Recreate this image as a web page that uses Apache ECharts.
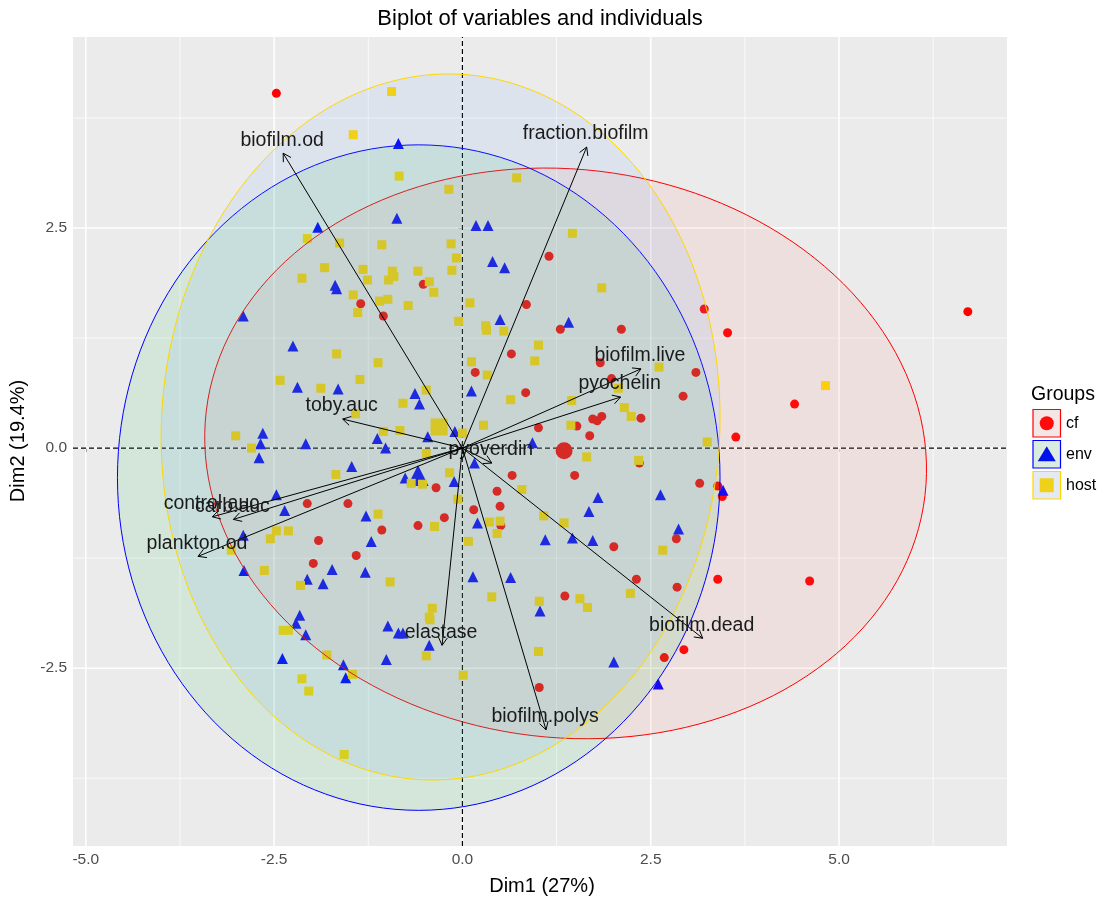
<!DOCTYPE html>
<html><head><meta charset="utf-8">
<script src="https://cdn.jsdelivr.net/npm/echarts@6/dist/echarts.min.js"></script>
<style>html,body{margin:0;padding:0;background:#fff}#c{width:1108px;height:899px}</style>
</head><body><div id="c"></div>
<script>
// ---------- data ----------
const groups = ['cf', 'env', 'host'];
const cfX = [-2.47,-0.52,-1.35,-1.05,1.15,0.85,3.21,1.30,2.11,0.65,1.83,3.10,0.17,1.98,6.71,3.52,0.84,2.93,2.37,1.73,1.79,1.85,1.01,1.52,1.69,3.63,2.35,0.66,1.49,3.15,3.39,3.45,0.46,0.50,0.15,0.51,2.84,2.01,2.31,2.85,3.39,4.61,1.36,4.41,2.68,2.94,1.02,-0.35,-0.24,-0.59,-2.06,-1.52,-1.07,-1.91,-1.41,-1.98];
const cfY = [4.03,1.86,1.64,1.50,2.18,1.63,1.58,1.35,1.35,1.07,0.97,0.86,0.86,0.79,1.55,1.31,0.63,0.59,0.34,0.33,0.31,0.36,0.23,0.25,0.14,0.125,-0.17,-0.31,-0.31,-0.40,-0.43,-0.55,-0.49,-0.66,-0.70,-0.88,-1.03,-1.12,-1.49,-1.58,-1.49,-1.51,-1.68,0.50,-2.38,-2.29,-2.72,-0.45,-0.79,-0.88,-0.63,-0.63,-0.93,-1.05,-1.22,-1.31];
const envX = [-0.85,-0.87,-1.92,-1.69,-1.67,-2.91,0.18,0.34,0.40,0.56,0.50,-2.25,1.41,0.12,-2.19,-1.65,-0.63,-0.57,-1.13,-0.46,-1.02,-0.10,-2.65,-2.68,-2.70,-2.08,-1.47,-0.76,-0.11,0.93,0.16,3.46,1.80,2.63,1.68,0.20,2.87,1.10,1.46,1.73,0.14,0.64,1.03,2.01,2.60,-2.47,-2.36,-1.28,-1.21,-2.91,-2.90,-1.73,-1.29,-2.06,-1.85,-2.16,-2.21,-2.08,-0.99,-0.85,-0.79,-0.44,-2.39,-1.01,-1.58,-1.55];
const envY = [3.46,2.61,2.51,1.85,1.81,1.50,2.53,2.53,2.12,2.05,1.46,1.16,1.43,0.65,0.69,0.67,0.62,0.50,0.11,0.13,0.00,0.19,0.17,0.05,-0.11,0.05,-0.21,-0.34,-0.38,0.06,-0.17,-0.48,-0.56,-0.53,-0.72,-0.85,-0.92,-1.04,-1.02,-1.05,-1.46,-1.47,-1.85,-2.43,-2.68,-0.53,-0.71,-0.77,-1.06,-0.99,-1.39,-1.38,-1.41,-1.49,-1.54,-1.90,-1.99,-2.12,-2.02,-2.10,-2.10,-2.24,-2.39,-2.40,-2.46,-2.61];
const hostX = [-0.94,-1.45,-0.84,-0.18,-2.06,-1.63,-1.07,-0.15,-0.08,-1.83,-1.32,-0.93,-0.59,-0.14,-2.13,-1.26,-0.98,-0.91,-0.44,-0.38,-1.45,-1.10,-0.99,-0.72,-1.39,-0.05,0.10,0.31,0.32,0.55,-1.67,-1.12,0.12,0.33,-2.42,-1.36,0.72,1.46,1.85,1.01,0.96,2.61,0.64,2.07,1.45,2.15,2.24,0.28,1.44,3.25,1.65,2.34,0.79,1.08,1.35,0.36,0.50,0.46,0.08,2.66,0.39,1.56,2.23,4.82,1.02,1.66,1.01,0.01,-2.15,-0.96,-0.40,-0.44,-0.43,-2.38,-2.31,-0.48,-1.80,-1.46,-2.13,-2.04,-1.57,-1.88,-0.48,-0.79,-1.42,-0.83,-1.05,0.00,-3.01,-2.80,-0.48,-1.68,-0.68,-0.53,-0.17,-0.06,-0.37,-1.12,-2.47,-2.31,-2.55,-3.07,-2.63];
const hostY = [4.05,3.56,3.09,2.94,2.38,2.33,2.31,2.32,2.16,2.05,2.03,2.01,2.01,2.02,1.93,1.91,1.91,1.95,1.89,1.77,1.74,1.67,1.69,1.62,1.54,1.44,1.65,1.39,1.34,1.33,1.07,0.97,0.98,0.83,0.77,0.78,3.07,2.44,1.82,1.17,0.99,0.92,0.55,0.68,0.54,0.46,0.36,0.26,0.26,0.07,-0.10,-0.14,-0.47,-0.77,-0.85,-0.84,-0.83,-0.97,-1.06,-1.16,-1.69,-1.71,-1.65,0.71,-1.74,-1.81,-2.31,-2.58,-1.56,-1.52,-1.82,-1.92,-1.95,-2.07,-2.07,-2.36,-2.35,-2.57,-2.62,-2.76,-3.48,0.68,0.66,0.51,0.39,0.20,0.19,0.17,0.14,0.00,-0.06,-0.30,-0.40,-0.41,-0.28,-0.58,-0.89,-0.75,-0.94,-0.94,-1.03,-1.16,-1.39];
// group means
const meanX = [1.35, -0.59, -0.31];
const meanY = [-0.03, -0.31, 0.24];
// variable arrows (coordinates of arrow tips)
const varNames = ['biofilm.od','fraction.biofilm','biofilm.live','pyochelin','pyoverdin','biofilm.dead','biofilm.polys','elastase','toby.auc','control.auc','carb.auc','plankton.od'];
const varX = [-2.38, 1.65, 2.37, 2.10, 0.39, 3.19, 1.11, -0.27, -1.59, -3.32, -3.04, -3.51];
const varY = [3.35, 3.42, 0.90, 0.58, -0.17, -2.16, -3.20, -2.24, 0.33, -0.78, -0.81, -1.23];
// confidence ellipses: centre and two conjugate half-axis vectors (data units)
const ellCX = [1.37, -0.58, -0.29];
const ellCY = [-0.06, -0.335, 0.24];
const ellUX = [4.79, 4.00, 3.71];
const ellUY = [-0.10, 0.00, 0.05];
const ellVX = [-0.12, 0.00, 0.06];
const ellVY = [3.24, 3.78, 4.01];
// axes
const xTicks = [-5, -2.5, 0, 2.5, 5];
const yTicks = [-2.5, 0, 2.5];
const xMinor = [-3.75, -1.25, 1.25, 3.75, 6.25];
const yMinor = [-3.75, -1.25, 1.25, 3.75];
const X_MIN = -5.17, X_MAX = 7.23, Y_MIN = -4.52, Y_MAX = 4.67;

// ---------- styles ----------
const ptColor = ['#FF0000', '#0000FF', '#FFD700'];
const lineColor = ['#FF0000', '#0000FF', '#FFD700'];
const fillColor = ['rgba(248,118,109,0.1)', 'rgba(0,186,56,0.1)', 'rgba(97,156,255,0.1)'];
const FONT = '"Liberation Sans", Arial, sans-serif';

const chart = echarts.init(document.getElementById('c'), null, {renderer: 'canvas'});

function gridItem(params, api) {
  const v = api.value(0), dir = api.value(1), major = api.value(2);
  let p1, p2;
  if (dir === 0) { p1 = api.coord([v, Y_MIN]); p2 = api.coord([v, Y_MAX]); }
  else { p1 = api.coord([X_MIN, v]); p2 = api.coord([X_MAX, v]); }
  return {type: 'line', shape: {x1: p1[0], y1: p1[1], x2: p2[0], y2: p2[1]},
    style: {stroke: '#FFFFFF', lineWidth: major ? 1.5 : 0.75}};
}
const gridData = [];
xTicks.forEach(v => gridData.push([v, 0, 1]));
xMinor.forEach(v => gridData.push([v, 0, 0]));
yTicks.forEach(v => gridData.push([v, 1, 1]));
yMinor.forEach(v => gridData.push([v, 1, 0]));

function zeroItem(params, api) {
  const dir = api.value(1);
  let p1, p2;
  if (dir === 0) { p1 = api.coord([0, Y_MIN]); p2 = api.coord([0, Y_MAX]); }
  else { p1 = api.coord([X_MIN, 0]); p2 = api.coord([X_MAX, 0]); }
  return {type: 'line', shape: {x1: p1[0], y1: p1[1], x2: p2[0], y2: p2[1]},
    style: {stroke: '#000', lineWidth: 1.2, lineDash: [5, 3]}};
}

function ellipseItem(params, api) {
  const g = api.value(6);
  const pts = [];
  const N = 160;
  for (let k = 0; k <= N; k++) {
    const t = 2 * Math.PI * k / N;
    const x = api.value(0) + api.value(2) * Math.cos(t) + api.value(4) * Math.sin(t);
    const y = api.value(1) + api.value(3) * Math.cos(t) + api.value(5) * Math.sin(t);
    pts.push(api.coord([x, y]));
  }
  return {type: 'polygon', shape: {points: pts},
    style: {fill: fillColor[g], stroke: lineColor[g], lineWidth: 1}};
}
const ellData = groups.map((g, i) => [ellCX[i], ellCY[i], ellUX[i], ellUY[i], ellVX[i], ellVY[i], i]);

function arrowItem(params, api) {
  const i = params.dataIndex;
  const o = api.coord([0, 0]);
  const t = api.coord([api.value(0), api.value(1)]);
  const ang = Math.atan2(t[1] - o[1], t[0] - o[0]);
  const L = 9, A = Math.PI / 6;
  const h1 = [t[0] - L * Math.cos(ang - A), t[1] - L * Math.sin(ang - A)];
  const h2 = [t[0] - L * Math.cos(ang + A), t[1] - L * Math.sin(ang + A)];
  return {type: 'group', children: [
    {type: 'line', shape: {x1: o[0], y1: o[1], x2: t[0], y2: t[1]}, style: {stroke: '#000', lineWidth: 1}},
    {type: 'polyline', shape: {points: [h1, t, h2]}, style: {stroke: '#000', lineWidth: 1, fill: null}},
    {type: 'text', x: t[0] - 1, y: t[1] - 13, style: {text: varNames[i], fill: '#1A1A1A', font: '19.5px ' + FONT,
      align: 'center', verticalAlign: 'middle', textAlign: 'center', textVerticalAlign: 'middle'}}
  ]};
}
const arrowData = varX.map((x, i) => [x, varY[i]]);

const ptSize = [9, 11, 9];
const meanSize = [17, 21, 17];
const symbols = ['circle', 'triangle', 'rect'];
const groupX = [cfX, envX, hostX], groupY = [cfY, envY, hostY];

const series = [
  {type: 'custom', name: 'grid', renderItem: gridItem, data: gridData, z: 1, silent: true, clip: true,
    encode: {x: 0, y: 0}},
  {type: 'custom', name: 'zero', renderItem: zeroItem, data: [[0, 0], [0, 1]], z: 1, silent: true, clip: true,
    encode: {x: 0, y: 0}}
];
groups.forEach((g, i) => {
  series.push({type: 'scatter', name: g, symbol: symbols[i], symbolSize: ptSize[i], z: 2,
    itemStyle: {color: ptColor[i], opacity: 1},
    data: groupX[i].map((x, k) => [x, groupY[i][k]])});
  series.push({type: 'scatter', name: g + ' mean', symbol: symbols[i], symbolSize: meanSize[i], z: 2,
    itemStyle: {color: ptColor[i], opacity: 1},
    data: [[meanX[i], meanY[i]]]});
});
series.push({type: 'custom', name: 'ellipses', renderItem: ellipseItem, data: ellData, z: 3, silent: true, clip: true,
  encode: {x: 0, y: 1}});
series.push({type: 'custom', name: 'arrows', renderItem: arrowItem, data: arrowData, z: 4, silent: true, clip: false,
  encode: {x: 0, y: 1}});

// legend drawn with graphic elements
const keyFill = ['#F3E6E5', '#DAECDF', '#E4E9F3'];
const keySym = ['#FE0C0B', '#0013EB', '#EFD119'];
const legendEls = [
  {type: 'text', x: 1031, y: 395, style: {text: 'Groups', fill: '#000', font: '19.5px ' + FONT,
    align: 'left', verticalAlign: 'middle', textAlign: 'left', textVerticalAlign: 'middle'}}
];
groups.forEach((g, i) => {
  const y0 = 409.5 + i * 31;
  legendEls.push({type: 'rect', shape: {x: 1033, y: y0, width: 27.5, height: 27.5},
    style: {fill: keyFill[i], stroke: lineColor[i], lineWidth: 1.2}});
  let sym;
  const cx = 1046.75, cy = y0 + 13.75;
  if (i === 0) sym = {type: 'circle', shape: {cx: cx, cy: cy, r: 7}, style: {fill: keySym[i]}};
  else if (i === 1) sym = {type: 'polygon', shape: {points: [[cx, cy - 8], [cx + 9, cy + 7], [cx - 9, cy + 7]]}, style: {fill: keySym[i]}};
  else sym = {type: 'rect', shape: {x: cx - 7, y: cy - 7, width: 14, height: 14}, style: {fill: keySym[i]}};
  legendEls.push(sym);
  legendEls.push({type: 'text', x: 1066, y: cy, style: {text: g, fill: '#000', font: '16px ' + FONT,
    align: 'left', verticalAlign: 'middle', textAlign: 'left', textVerticalAlign: 'middle'}});
});

const option = {
  animation: false,
  backgroundColor: '#FFFFFF',
  grid: {left: 73, top: 37, width: 934, height: 809, show: true, backgroundColor: '#EBEBEB', borderWidth: 0, containLabel: false},
  xAxis: {type: 'value', min: X_MIN, max: X_MAX,
    axisLine: {show: false}, splitLine: {show: false},
    axisTick: {show: true, customValues: xTicks, length: 4, lineStyle: {color: '#333333', width: 1}},
    axisLabel: {customValues: xTicks, formatter: v => Number(v).toFixed(1), color: '#4D4D4D', fontSize: 15.5, fontFamily: FONT, margin: 6}},
  yAxis: {type: 'value', min: Y_MIN, max: Y_MAX,
    axisLine: {show: false}, splitLine: {show: false},
    axisTick: {show: true, customValues: yTicks, length: 4, lineStyle: {color: '#333333', width: 1}},
    axisLabel: {customValues: yTicks, formatter: v => Number(v).toFixed(1), color: '#4D4D4D', fontSize: 15.5, fontFamily: FONT, margin: 6}},
  graphic: [
    {type: 'text', x: 540, y: 19, style: {text: 'Biplot of variables and individuals', fill: '#000', font: '22px ' + FONT,
      align: 'center', verticalAlign: 'middle', textAlign: 'center', textVerticalAlign: 'middle'}},
    {type: 'text', x: 542, y: 886, style: {text: 'Dim1 (27%)', fill: '#000', font: '20px ' + FONT,
      align: 'center', verticalAlign: 'middle', textAlign: 'center', textVerticalAlign: 'middle'}},
    {type: 'text', x: 18, y: 441, rotation: Math.PI / 2, style: {text: 'Dim2 (19.4%)', fill: '#000', font: '20px ' + FONT,
      align: 'center', verticalAlign: 'middle', textAlign: 'center', textVerticalAlign: 'middle'}}
  ].concat(legendEls),
  series: series
};
chart.setOption(option);
</script>
</body></html>
